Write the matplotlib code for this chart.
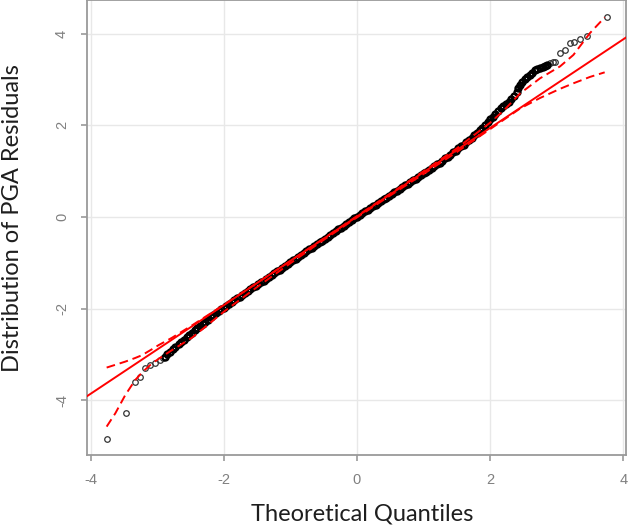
import matplotlib
matplotlib.use('Agg')
import matplotlib.pyplot as plt

plt.rcParams['axes.unicode_minus'] = False

# ---- data ----
theo_q = [
    -3.75, -3.47, -3.33, -3.26, -3.18, -3.11, -3.03, -2.96, -2.92, -2.88, -2.85, -2.81,
    -2.77, -2.73, -2.68, -2.64, -2.60, -2.56, -2.52, -2.48, -2.44,
    -2.40, -2.36, -2.32, -2.28, -2.24, -2.20, -2.16, -2.12, -2.08, -2.04, -2.00, -1.96,
    -1.92, -1.88, -1.84, -1.80, -1.76, -1.72, -1.68, -1.64, -1.60, -1.56, -1.52, -1.48,
    -1.44, -1.40, -1.36, -1.32, -1.28, -1.24, -1.20, -1.16, -1.12, -1.08, -1.04, -1.00,
    -0.96, -0.92, -0.88, -0.84, -0.80, -0.76, -0.72, -0.68, -0.64, -0.60, -0.56, -0.52,
    -0.48, -0.44, -0.40, -0.36, -0.32, -0.28, -0.24, -0.20, -0.16, -0.12, -0.08, -0.04,
    0.00, 0.04, 0.08, 0.12, 0.16, 0.20, 0.24, 0.28, 0.32, 0.36, 0.40, 0.44,
    0.48, 0.52, 0.56, 0.60, 0.64, 0.68, 0.72, 0.76, 0.80, 0.84, 0.88, 0.92,
    0.96, 1.00, 1.04, 1.08, 1.12, 1.16, 1.20, 1.24, 1.28, 1.32, 1.36, 1.40,
    1.44, 1.48, 1.52, 1.56, 1.60, 1.64, 1.68, 1.72, 1.76, 1.80, 1.84, 1.88,
    1.92, 1.96, 2.00, 2.04, 2.08, 2.12, 2.16, 2.20, 2.24, 2.28, 2.32,
    2.36, 2.40, 2.42, 2.45, 2.48, 2.52, 2.56, 2.60, 2.63, 2.67, 2.71, 2.75,
    2.79, 2.82, 2.86, 2.90, 2.94, 2.97, 3.05, 3.12, 3.20, 3.26, 3.35, 3.46, 3.76,
]
resid = [
    -4.84, -4.28, -3.60, -3.49, -3.29, -3.24, -3.20, -3.13, -3.09, -3.05, -2.99, -2.94,
    -2.88, -2.83, -2.77, -2.73, -2.68, -2.63, -2.58, -2.53, -2.48,
    -2.43, -2.38, -2.33, -2.29, -2.24, -2.19, -2.14, -2.10, -2.06, -2.02, -1.98, -1.94,
    -1.90, -1.86, -1.82, -1.78, -1.74, -1.70, -1.66, -1.62, -1.58, -1.54, -1.51, -1.47,
    -1.43, -1.39, -1.35, -1.31, -1.27, -1.23, -1.19, -1.15, -1.11, -1.07, -1.03, -0.99,
    -0.95, -0.91, -0.87, -0.83, -0.79, -0.75, -0.71, -0.67, -0.63, -0.59, -0.55, -0.52,
    -0.48, -0.44, -0.40, -0.36, -0.31, -0.27, -0.23, -0.19, -0.15, -0.11, -0.07, -0.03,
    0.01, 0.05, 0.09, 0.12, 0.16, 0.20, 0.24, 0.27, 0.31, 0.35, 0.39, 0.42,
    0.46, 0.50, 0.54, 0.57, 0.61, 0.65, 0.69, 0.72, 0.76, 0.80, 0.84, 0.88,
    0.92, 0.96, 0.99, 1.03, 1.07, 1.11, 1.15, 1.19, 1.23, 1.28, 1.32, 1.36,
    1.41, 1.45, 1.50, 1.54, 1.58, 1.63, 1.68, 1.73, 1.78, 1.84, 1.89, 1.95,
    2.01, 2.07, 2.13, 2.19, 2.26, 2.32, 2.37, 2.43, 2.47, 2.52, 2.57,
    2.65, 2.74, 2.82, 2.89, 2.95, 3.01, 3.06, 3.10, 3.15, 3.20, 3.23, 3.25,
    3.28, 3.30, 3.33, 3.36, 3.38, 3.39, 3.59, 3.65, 3.80, 3.83, 3.88, 3.96, 4.36,
]

env_x = [-3.76, -3.63, -3.48, -3.33, -3.23, -3.08, -2.98, -2.78, -2.48, -2.0, -1.5, -1.0,
         -0.5, 0.0, 0.5, 1.0, 1.5, 2.0, 2.2, 2.45, 2.75, 3.05, 3.25, 3.5, 3.72]
env_upper = [-3.29, -3.23, -3.16, -3.08, -3.02, -2.89, -2.80, -2.64, -2.37, -1.92, -1.44, -0.96,
             -0.47, 0.02, 0.51, 1.00, 1.50, 2.06, 2.32, 2.70, 3.03, 3.29, 3.54, 4.02, 4.36]
env_lower = [-4.58, -4.29, -3.89, -3.56, -3.40, -3.20, -3.10, -2.91, -2.64, -2.07, -1.53, -1.01,
             -0.50, -0.01, 0.47, 0.94, 1.42, 1.92, 2.12, 2.37, 2.60, 2.80, 2.92, 3.06, 3.16]

line_intercept = 0.01
line_slope = 0.968

x_ticks = [-4, -2, 0, 2, 4]
y_ticks = [-4, -2, 0, 2, 4]
x_label = "Theoretical Quantiles"
y_label = "Distribution of PGA Residuals"

# ---- figure ----
W, H = 630, 530
fig = plt.figure(figsize=(W / 100, H / 100), dpi=100)
fig.patch.set_facecolor('white')
L, R, T, B = 87, 626, 0, 455
ax = fig.add_axes([L / W, 1 - B / H, (R - L) / W, (B - T) / H])

ax.set_xlim(-4.055, 4.04)
ax.set_ylim(-5.20, 4.74)
ax.set_xticks(x_ticks)
ax.set_yticks(y_ticks)
ax.grid(True, color='#E8E8E8', lw=1.0)
ax.set_axisbelow(True)

# sparse tails: thin circles; dense core (overplotted in the original): heavier edge
n_left, n_right = 9, 10
ax.plot(theo_q, resid, ls='none', marker='o', ms=4.0, mfc='none',
        mec='#333333', mew=0.9, zorder=2)
ax.plot(theo_q[n_left:-n_right], resid[n_left:-n_right], ls='none', marker='o',
        ms=4.3, mfc='none', mec='#000000', mew=1.7, zorder=2)
ax.axline((0, line_intercept), slope=line_slope, color='#FF0000', lw=1.4, zorder=3)
ax.plot(env_x, env_upper, color='#FF0000', lw=1.4, dashes=(4.5, 2.5), zorder=3)
ax.plot(env_x, env_lower, color='#FF0000', lw=1.4, dashes=(4.5, 2.5), zorder=3)

for s in ax.spines.values():
    s.set_color('#9A9A9A')
    s.set_linewidth(1.3)

ax.tick_params(axis='both', colors='#9A9A9A', labelcolor='#808080',
               length=4.5, width=1.2, labelsize=10.5)
ax.tick_params(axis='x', pad=8.5)
ax.tick_params(axis='y', pad=8.5)
for lab in ax.get_xticklabels() + ax.get_yticklabels():
    lab.set_fontfamily('Liberation Sans')
for lab in ax.get_yticklabels():
    lab.set_rotation(90)
    lab.set_va('center')
    lab.set_ha('right')

fig.text(362 / W, 1 - 514 / H, x_label, ha='center', va='center',
         fontsize=17, family='Lato', color='#1E1E1E')
fig.text(13 / W, 1 - 218 / H, y_label, ha='center', va='center', rotation=90,
         fontsize=17, family='Lato', color='#1E1E1E')

fig.savefig('out.png', dpi=100, facecolor='white')
